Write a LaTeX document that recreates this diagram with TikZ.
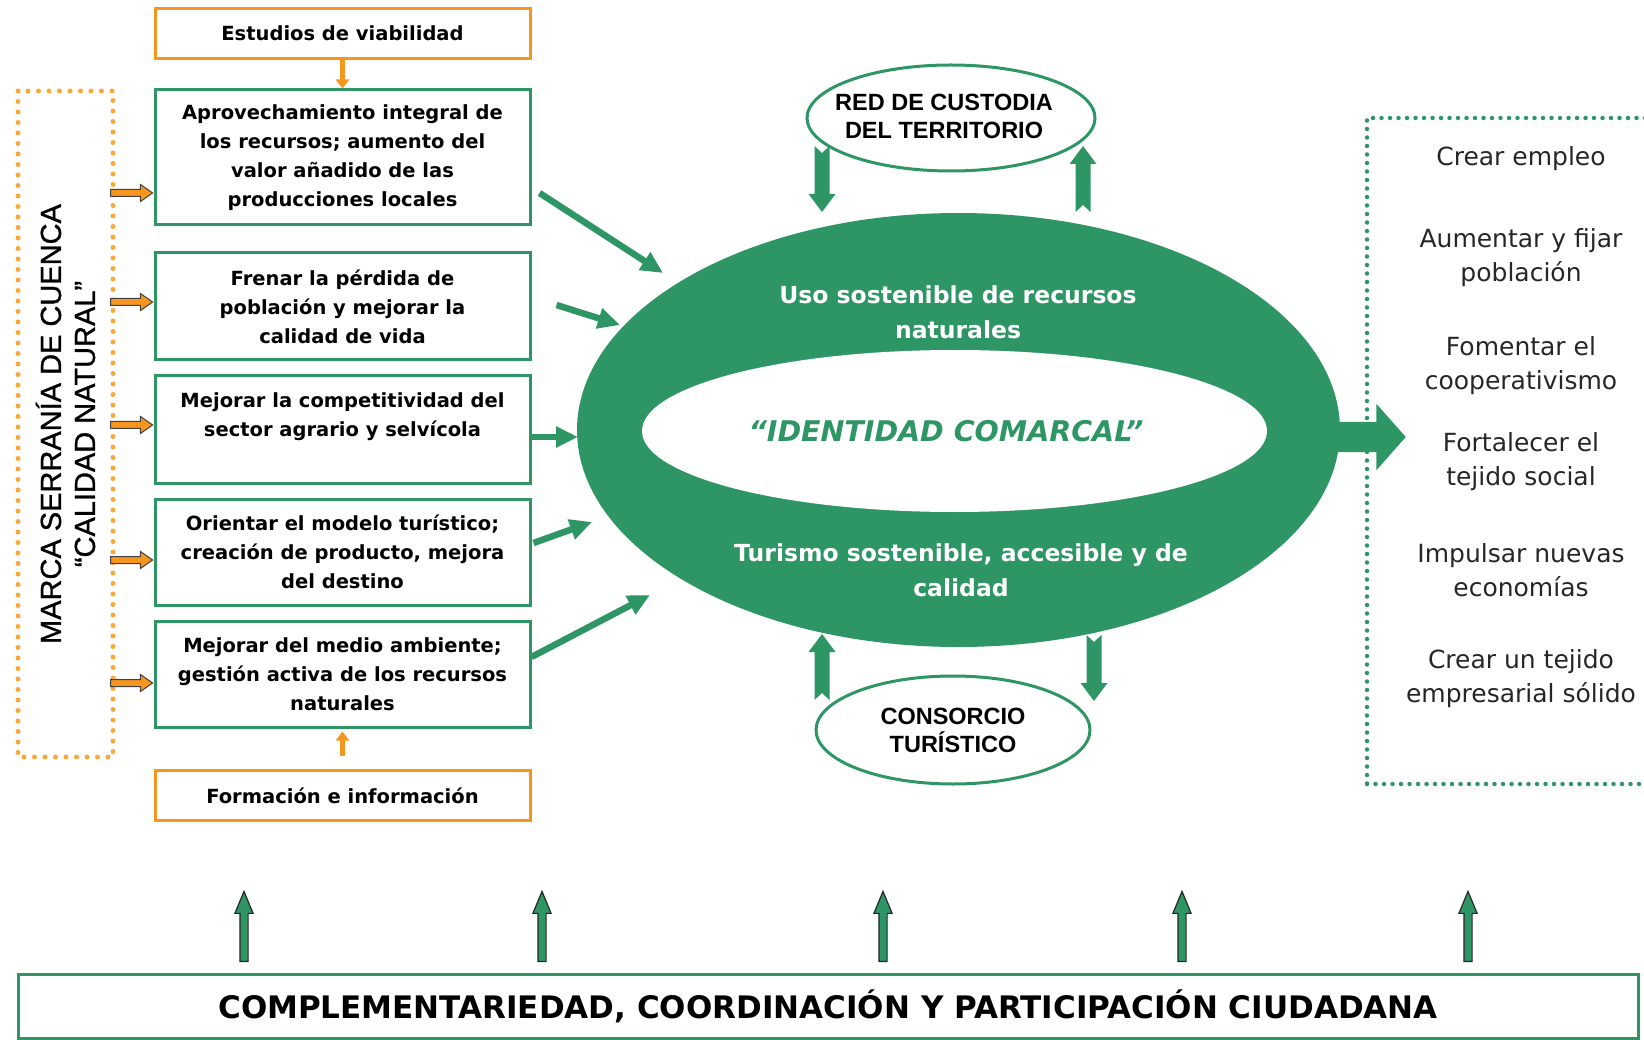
\documentclass[tikz,border=0pt]{standalone}
\usepackage{fontspec}
\setmainfont{DejaVu Sans}
\newfontfamily\arialfont{Liberation Sans}
\newfontfamily\markfont{Liberation Sans}[FakeBold=1]
\usetikzlibrary{shapes.geometric, shapes.arrows, arrows.meta}
\definecolor{cgreen}{RGB}{46,150,101}
\definecolor{corange}{RGB}{247,150,30}
\definecolor{cdots}{RGB}{250,168,55}

\begin{document}
\begin{tikzpicture}[x=1pt, y=-1pt,
  aim/.style = {draw=cgreen, line width=3pt, minimum width=375pt, inner sep=4pt, align=center, font=\bfseries\fontsize{19.5}{29}\selectfont},
  support/.style = {draw=corange, line width=3pt, minimum width=375pt, minimum height=50pt, font=\bfseries\fontsize{19.5}{24}\selectfont},
  ring/.style = {ellipse, draw=cgreen, line width=3pt, inner sep=0pt},
  ringtext/.style = {align=center, font=\arialfont\bfseries\fontsize{23.5}{28}\selectfont},
  feed/.style = {cgreen, line width=6.5pt, -{Triangle[length=22pt, width=20pt]}},
  lift/.style = {corange, line width=5pt, -{Triangle[length=9pt, width=13pt]}},
  push/.style = {single arrow, draw=black!75, fill=corange, line width=1pt, minimum height=42pt, inner sep=3pt, single arrow head extend=5pt, single arrow tip angle=70},
  rise/.style = {single arrow, rotate=90, draw=black!85, fill=cgreen, line width=1.2pt, minimum height=70pt, inner sep=3.5pt, single arrow head extend=5pt, single arrow tip angle=45},
  goal/.style = {align=center, text=black!85, font=\fontsize{25}{34}\selectfont},
  notch/.pic = {\fill[cgreen] (-7.5,0) -- (0,7) -- (7.5,0) -- (7.5,48) -- (13.5,48) -- (0,66) -- (-13.5,48) -- (-7.5,48) -- cycle;}
]
\useasboundingbox (0,0) rectangle (1644,1040);
\clip (0,0) rectangle (1644,1040);

\node[support] (study) at (342.5,33.5) {Estudios de viabilidad};
\node[aim, minimum height=135pt] (b1) at (342.5,157.5) {Aprovechamiento integral de\\los recursos; aumento del\\valor añadido de las\\producciones locales};
\node[aim, minimum height=107pt] (b2) at (342.5,306.5) {Frenar la pérdida de\\población y mejorar la\\calidad de vida};
\node[aim, minimum height=107pt] (b3) at (342.5,429.5) {Mejorar la competitividad del\\sector agrario y selvícola\\~};
\node[aim, minimum height=106pt] (b4) at (342.5,552) {Orientar el modelo turístico;\\creación de producto, mejora\\del destino};
\node[aim, minimum height=106pt] (b5) at (342.5,674) {Mejorar del medio ambiente;\\gestión activa de los recursos\\naturales};
\node[support] (train) at (342.5,795.5) {Formación e información};
\draw[lift] (study) -- (b1);
\draw[lift, shorten <=13pt, shorten >=3pt] (train) -- (b5);

\node[draw=cdots, line width=5pt, dash pattern=on 0pt off 10.5pt, line cap=round, rotate=90, minimum width=666pt, minimum height=95pt, align=center, font=\markfont\fontsize{29}{34}\selectfont] (mark) at (65.5,424) {MARCA SERRANÍA DE CUENCA\\“CALIDAD NATURAL”};
\foreach \b/\d in {b1/-35.5, b2/4.5, b3/4.5, b4/-8, b5/-9}
  \node[push, anchor=tip] at ([yshift=\d pt]\b.west) {};

\node[ellipse, fill=cgreen, minimum width=763pt, minimum height=434pt, inner sep=0pt] (core) at (958.5,430) {};
\node[ellipse, fill=white, minimum width=625pt, minimum height=162pt, inner sep=0pt] (identity) at (954.5,431) {};
\node[text=cgreen, font=\bfseries\itshape\fontsize{28.5}{32}\selectfont] at (946,431) {“IDENTIDAD COMARCAL”};
\node[text=white, align=center, font=\bfseries\fontsize{23.5}{34.5}\selectfont] (use) at (958,312) {Uso sostenible de recursos\\naturales};
\node[text=white, align=center, font=\bfseries\fontsize{23.5}{34.5}\selectfont] (tour) at (961,570) {Turismo sostenible, accesible y de\\calidad};

\coordinate (t1) at (663,273);
\coordinate (t2) at (620,325);
\coordinate (t3) at (578,437);
\coordinate (t4) at (592,522);
\coordinate (t5) at (650,595);
\draw[feed] ([xshift=8pt,yshift=-35.5pt]b1.east) -- (t1);
\draw[feed] ([xshift=25pt,yshift=1.5pt]b2.east) -- (t2);
\draw[feed] ([yshift=-7.5pt]b3.east) -- (t3);
\draw[feed] ([xshift=2pt,yshift=9pt]b4.east) -- (t4);
\draw[feed] ([yshift=17pt]b5.east) -- (t5);

\node[ring, minimum width=288pt, minimum height=106pt] (custody) at (951,118) {};
\node[ringtext] at ([xshift=-7pt,yshift=2pt]custody.center) {RED DE CUSTODIA\\DEL TERRITORIO};
\node[ring, minimum width=274pt, minimum height=108pt] (consortium) at (953,730) {};
\node[ringtext] at (consortium) {CONSORCIO\\TURÍSTICO};
\pic at (822,146) {notch};
\pic[rotate=180] at (1083,212) {notch};
\pic[rotate=180] at (822,700) {notch};
\pic at (1094,635) {notch};

\node[draw=cgreen, line width=4.5pt, dash pattern=on 0pt off 8.5pt, line cap=round, minimum width=333pt, minimum height=666pt] (goals) at (1533.5,451) {};
\node[single arrow, fill=cgreen, minimum height=90pt, inner sep=15pt, single arrow head extend=18pt, single arrow tip angle=97, anchor=tip] (out) at (1406,437) {};
\foreach \t/\y in {{Crear empleo}/159, {Aumentar y fijar\\población}/258, {Fomentar el\\cooperativismo}/366, {Fortalecer el\\tejido social}/461.5, {Impulsar nuevas\\economías}/570.5, {Crear un tejido\\empresarial sólido}/678.5}
  \node[goal] at (1521,\y) {\t};

\node[draw=cgreen, line width=3pt, minimum width=1620pt, minimum height=64pt, font=\bfseries\fontsize{31}{36}\selectfont] (base) at (828,1006) {COMPLEMENTARIEDAD, COORDINACIÓN Y PARTICIPACIÓN CIUDADANA};
\foreach \x in {244,542,883,1182,1468}
  \node[rise, anchor=tail] at (\x,962) {};
\end{tikzpicture}
\end{document}
